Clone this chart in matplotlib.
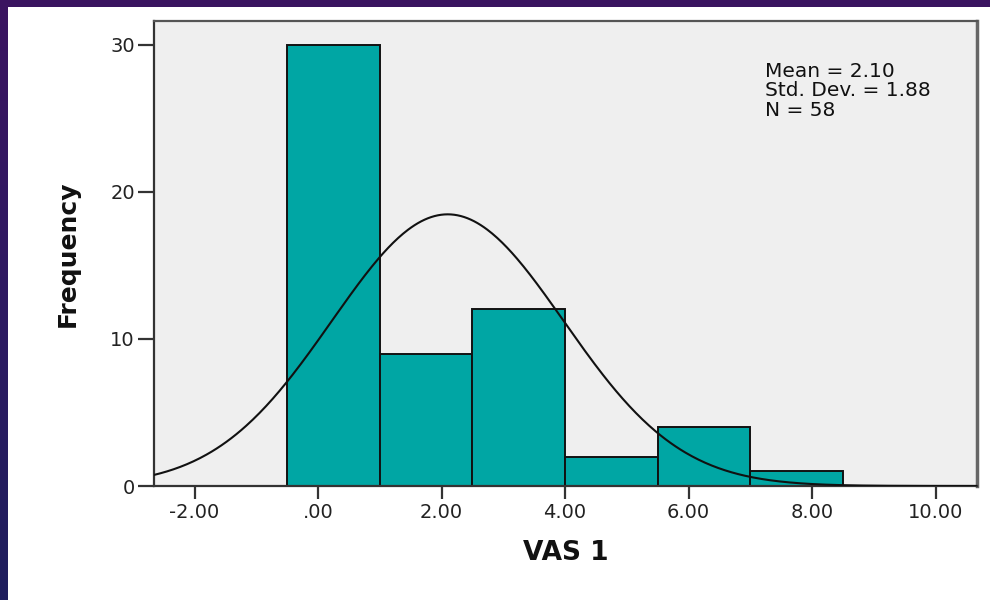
import numpy as np
import matplotlib
matplotlib.use("Agg")
import matplotlib.pyplot as plt
from matplotlib.patches import Rectangle
from matplotlib.colors import LinearSegmentedColormap

# Data
bin_edges = [-0.5, 1.0, 2.5, 4.0, 5.5, 7.0, 8.5]
counts = [30, 9, 12, 2, 4, 1]
mean_val = 2.10
sd_val = 1.88
n_val = 58
xticks = [-2, 0, 2, 4, 6, 8, 10]
xtick_labels = ["-2.00", ".00", "2.00", "4.00", "6.00", "8.00", "10.00"]
yticks = [0, 10, 20, 30]

plt.rcParams["font.family"] = ["DejaVu Sans"]

W, H = 990, 600
fig = plt.figure(figsize=(W / 100, H / 100), dpi=100)
fig.patch.set_facecolor("white")

# purple slide border (gradient on left strip, band on top)
bg = fig.add_axes([0, 0, 1, 1], zorder=-10)
bg.set_axis_off()
grad = np.linspace(0, 1, 256).reshape(-1, 1)
cmap = LinearSegmentedColormap.from_list("p", ["#1f1f5e", "#2e1a62", "#3b1460"])
bg.imshow(grad, aspect="auto", cmap=cmap, extent=[0, 1, 0, 1], origin="lower")
bg.add_patch(Rectangle((8 / W, 0), 1 - 8 / W, 1 - 7 / H, transform=bg.transAxes,
                       facecolor="white", edgecolor="none"))
bg.set_xlim(0, 1)
bg.set_ylim(0, 1)

left, right, top, bottom = 154, 977, 21, 486
aw, ah = right - left, bottom - top
ax = fig.add_axes([left / W, 1 - bottom / H, aw / W, ah / H])
ax.set_facecolor("#efefef")

widths = np.diff(bin_edges)
ax.bar(bin_edges[:-1], counts, width=widths, align="edge", color="#00a6a4",
       edgecolor="#111111", linewidth=1.4, zorder=2)

x = np.linspace(-2.66, 10.68, 500)
bw = widths[0]
y = n_val * bw / (sd_val * np.sqrt(2 * np.pi)) * np.exp(-0.5 * ((x - mean_val) / sd_val) ** 2)
ax.plot(x, y, color="#111111", linewidth=1.5, zorder=3)

ax.set_xlim(-2.656, 10.67)
ax.set_ylim(0, 31.6)
ax.set_xticks(xticks)
ax.set_xticklabels(xtick_labels)
ax.set_yticks(yticks)
ax.tick_params(axis="both", labelsize=14, width=1.6, color="#333333",
               labelcolor="#222222")
ax.tick_params(axis="x", length=9, pad=3.6)
ax.tick_params(axis="y", length=11.5, pad=2.2)
for s in ax.spines.values():
    s.set_color("#333333")
    s.set_linewidth(1.6)
ax.spines["right"].set_color("#666666")
ax.spines["right"].set_linewidth(2.5)
ax.spines["top"].set_color("#555555")

ax.set_xlabel("VAS 1", fontsize=19, fontweight="bold", color="#111111")
ax.xaxis.label.set_va("center")
ax.xaxis.set_label_coords(0.5, -(553 - bottom) / ah)
ax.set_ylabel("Frequency", fontsize=18, fontweight="bold", color="#111111")
ax.yaxis.label.set_va("center")
ax.yaxis.set_label_coords(-(left - 68) / aw, 0.5)

ax.text((765 - left) / aw, (bottom - 62) / ah, "Mean = 2.10\nStd. Dev. = 1.88\nN = 58",
        transform=ax.transAxes, fontsize=14.5, va="top", ha="left",
        linespacing=1.02, color="#111111")

fig.savefig("out.png", dpi=100, facecolor=fig.get_facecolor())
